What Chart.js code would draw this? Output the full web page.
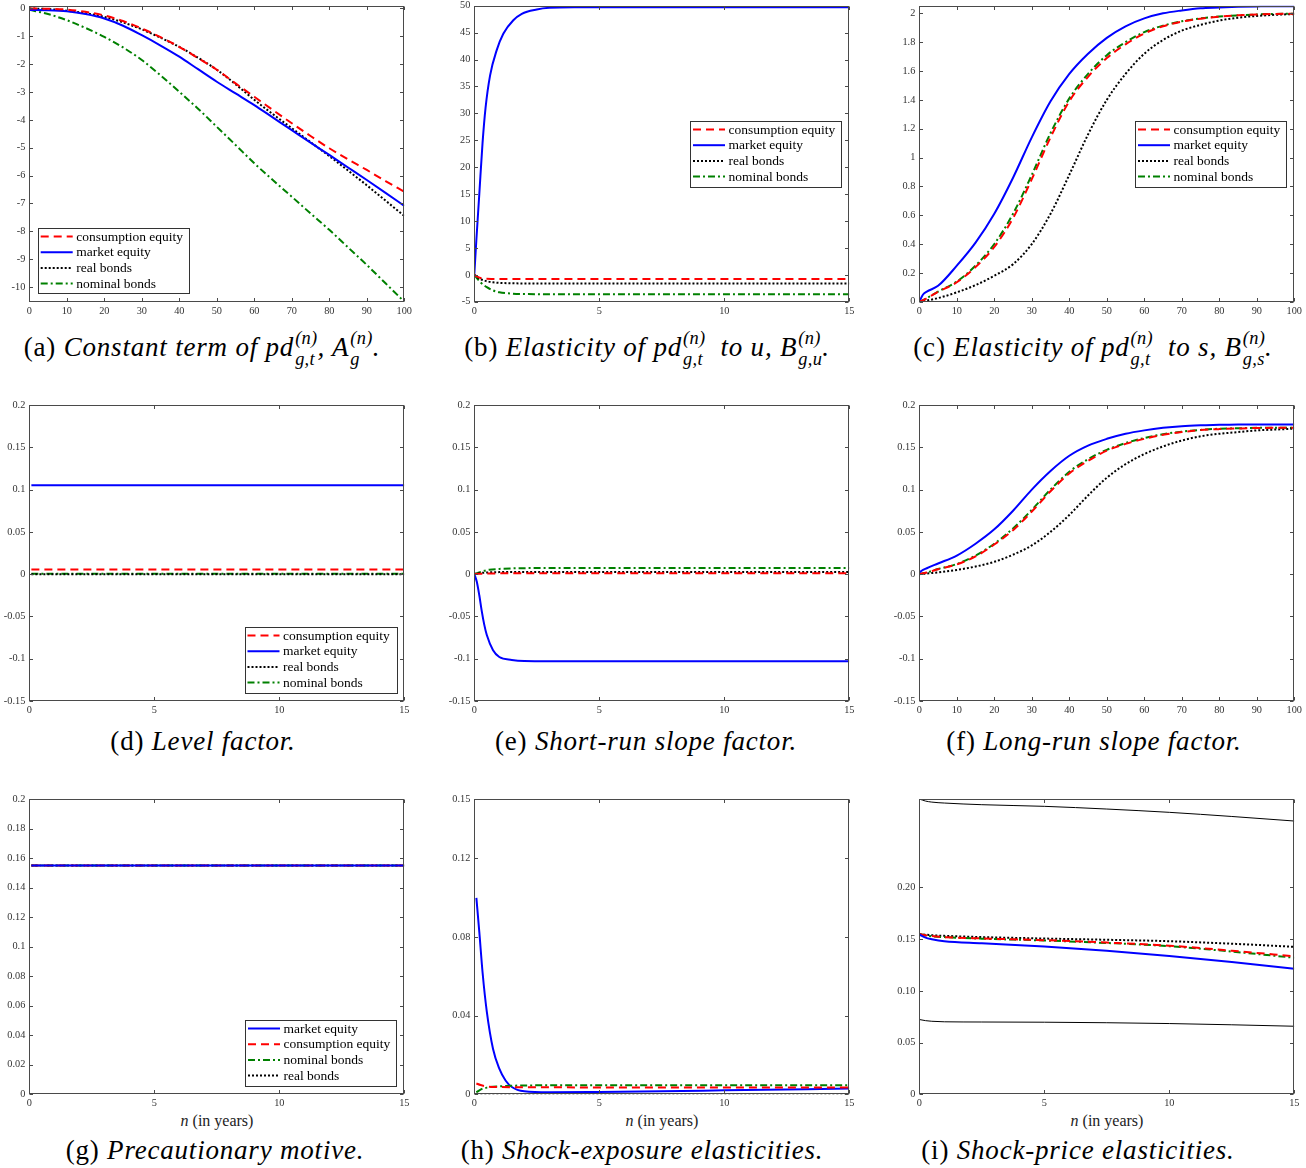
<!DOCTYPE html>
<html><head><meta charset="utf-8">
<script src="https://cdn.jsdelivr.net/npm/chart.js@4.4.1/dist/chart.umd.min.js"></script>
<style>
html,body{margin:0;padding:0;background:#fff;}
body{width:1306px;height:1168px;position:relative;overflow:hidden;font-family:'Liberation Serif','Times New Roman',serif;}
canvas{position:absolute;}
.cap{position:absolute;width:700px;text-align:center;font-size:27px;line-height:30px;white-space:nowrap;color:#000;letter-spacing:0.8px;}
.cap i{font-style:italic;}
.ss{display:inline-block;font-size:0.68em;line-height:1.15;vertical-align:-0.5em;text-align:left;font-style:italic;letter-spacing:0.3px;margin-left:1px;}
.ss span{display:block;}
.xt{position:absolute;width:300px;text-align:center;font-size:16px;line-height:20px;color:#222;}
</style></head><body>
<div class="cap" style="left:-148px;top:328px;">(a) <i>Constant term of pd</i><span class="ss"><span>(n)</span><span>g,t</span></span><i>, A</i><span class="ss"><span>(n)</span><span>g</span></span><i>.</i></div>
<div class="cap" style="left:297px;top:328px;">(b) <i>Elasticity of pd</i><span class="ss"><span>(n)</span><span>g,t</span></span><i>&nbsp; to u, B</i><span class="ss"><span>(n)</span><span>g,u</span></span><i>.</i></div>
<div class="cap" style="left:743px;top:328px;">(c) <i>Elasticity of pd</i><span class="ss"><span>(n)</span><span>g,t</span></span><i>&nbsp; to s, B</i><span class="ss"><span>(n)</span><span>g,s</span></span><i>.</i></div>
<div class="cap" style="left:-147px;top:726px;">(d) <i>Level factor.</i></div>
<div class="cap" style="left:296px;top:726px;">(e) <i>Short-run slope factor.</i></div>
<div class="cap" style="left:744px;top:726px;">(f) <i>Long-run slope factor.</i></div>
<div class="cap" style="left:-135px;top:1135px;">(g) <i>Precautionary motive.</i></div>
<div class="cap" style="left:292px;top:1135px;">(h) <i>Shock-exposure elasticities.</i></div>
<div class="cap" style="left:728px;top:1135px;">(i) <i>Shock-price elasticities.</i></div>
<div class="xt" style="left:67px;top:1111px;"><i>n</i> (in years)</div>
<div class="xt" style="left:512px;top:1111px;"><i>n</i> (in years)</div>
<div class="xt" style="left:957px;top:1111px;"><i>n</i> (in years)</div>
<script>
// ---------- DATA ----------
// (a) constant term
const A_N = [0,5,10,15,20,25,30,35,40,45,50,55,60,65,70,75,80,85,90,95,100];
const A_CONS = [0,-0.01,-0.04,-0.12,-0.25,-0.45,-0.72,-1.03,-1.38,-1.78,-2.2,-2.69,-3.17,-3.65,-4.12,-4.58,-5.02,-5.42,-5.8,-6.2,-6.58];
const A_MKT = [-0.05,-0.06,-0.1,-0.2,-0.36,-0.62,-0.96,-1.33,-1.73,-2.18,-2.63,-3.05,-3.47,-3.92,-4.37,-4.82,-5.26,-5.71,-6.16,-6.62,-7.09];
const A_REAL = [0,-0.02,-0.08,-0.17,-0.3,-0.5,-0.75,-1.05,-1.38,-1.77,-2.2,-2.72,-3.28,-3.8,-4.3,-4.8,-5.3,-5.82,-6.35,-6.9,-7.45];
const A_NOM = [-0.05,-0.2,-0.42,-0.7,-1.02,-1.4,-1.85,-2.4,-2.99,-3.6,-4.25,-4.9,-5.56,-6.17,-6.76,-7.36,-7.95,-8.58,-9.21,-9.87,-10.53];
// (b) elasticity to u
const B_N_MKT = [0,0.083,0.2,0.33,0.45,0.63,0.9,1.16,1.56,1.9,2.5,3,4,15];
const B_MKT = [0,6.5,15,24.5,31,37,41.8,44.8,47.3,48.5,49.3,49.6,49.7,49.7];
const B_N = [0,0.1,0.25,0.5,0.75,1,1.5,2,3,15];
const B_CONS = [0,-0.3,-0.6,-0.75,-0.78,-0.8,-0.8,-0.8,-0.8,-0.8];
const B_REAL = [0,-0.4,-0.8,-1.2,-1.4,-1.5,-1.58,-1.6,-1.6,-1.6];
const B_NOM = [0,-0.6,-1.4,-2.3,-2.9,-3.25,-3.5,-3.58,-3.6,-3.6];
// (c) elasticity to s
const C_N = [0,1,2,5,10,15,20,25,30,35,40,45,50,55,60,65,70,75,80,85,90,95,100];
const C_MKT = [0,0.05,0.07,0.11,0.25,0.41,0.61,0.86,1.14,1.39,1.58,1.72,1.83,1.91,1.965,2.0,2.02,2.035,2.04,2.045,2.048,2.05,2.05];
const C_CONS = [0,0.01,0.024,0.068,0.135,0.24,0.38,0.58,0.85,1.14,1.39,1.56,1.69,1.785,1.86,1.91,1.942,1.963,1.977,1.986,1.992,1.996,1.998];
const C_NOM = [0,0.01,0.025,0.07,0.14,0.25,0.4,0.61,0.88,1.17,1.41,1.58,1.71,1.8,1.87,1.915,1.945,1.965,1.978,1.986,1.992,1.996,1.998];
const C_REAL = [0,0.003,0.008,0.025,0.065,0.115,0.18,0.26,0.4,0.61,0.88,1.16,1.4,1.58,1.72,1.815,1.88,1.92,1.95,1.97,1.982,1.99,1.995];
// (d) level factor
const D_N = [0.083,15];
const D_CONS = [0.0055,0.0055];
const D_MKT = [0.105,0.105];
const D_REAL = [0,0];
const D_NOM = [0.0005,0.0005];
// (e) short-run slope factor
const E_N_MKT = [0,0.1,0.2,0.3,0.4,0.5,0.75,1,1.5,2,3,15];
const E_MKT = [0,-0.009,-0.025,-0.044,-0.06,-0.072,-0.09,-0.098,-0.1015,-0.1028,-0.103,-0.103];
const E_N = [0,0.2,0.4,0.6,1,1.5,2,3,15];
const E_CONS = [0,0.0004,0.0007,0.0008,0.0009,0.001,0.001,0.001,0.001];
const E_REAL = [0,0.0012,0.0018,0.0021,0.0024,0.0025,0.0025,0.0025,0.0025];
const E_NOM = [0,0.002,0.004,0.0052,0.0062,0.0068,0.0071,0.0072,0.0072];
// (f) long-run slope factor
const F_N = [0,1,2,5,10,15,20,25,30,35,40,45,50,55,60,65,70,75,80,85,90,95,100];
const F_MKT = [0.002,0.005,0.007,0.0126,0.022,0.036,0.053,0.075,0.1,0.122,0.14,0.152,0.16,0.166,0.17,0.173,0.175,0.176,0.1765,0.177,0.177,0.177,0.177];
const F_CONS = [0,0.001,0.002,0.0058,0.0115,0.021,0.035,0.052,0.074,0.098,0.119,0.134,0.146,0.154,0.16,0.1648,0.168,0.1703,0.1715,0.1722,0.1728,0.173,0.173];
const F_NOM = [0,0.001,0.002,0.006,0.012,0.022,0.036,0.054,0.076,0.1,0.121,0.136,0.147,0.155,0.161,0.1655,0.1685,0.1705,0.172,0.1725,0.173,0.173,0.173];
const F_REAL = [0,0.0003,0.0008,0.002,0.005,0.009,0.0146,0.023,0.034,0.05,0.07,0.093,0.114,0.13,0.142,0.151,0.158,0.163,0.166,0.168,0.17,0.171,0.172];
// (g) precautionary motive
const G_N = [0.083,15];
const G_MKT = [0.155,0.155];
const G_CONS = [0.155,0.155];
const G_NOM = [0.155,0.155];
const G_REAL = [0.155,0.155];
// (h) shock-exposure elasticities
const H_N_MKT = [0.083,0.2,0.33,0.5,0.75,1,1.25,1.5,2,3,5,10,15];
const H_MKT = [0.0998,0.0825,0.062,0.042,0.023,0.013,0.007,0.0037,0.0015,0.001,0.0012,0.002,0.0029];
const H_N = [0.083,0.25,0.5,1,2,5,15];
const H_CONS = [0.0055,0.0047,0.004,0.0037,0.0036,0.0035,0.0035];
const H_NOM = [0.001,0.0024,0.0034,0.004,0.0045,0.0046,0.0046];
const H_REAL = [0,0,0,0,0,0,0];
// (i) shock-price elasticities
const I_N = [0,0.25,0.5,1,2.5,5,7.5,10,12.5,15];
const I_UPPER = [0.2855,0.2835,0.2825,0.2816,0.28,0.2784,0.2758,0.2726,0.2686,0.2642];
const I_LOWER = [0.0723,0.0712,0.0706,0.0701,0.0699,0.0697,0.0692,0.0684,0.0672,0.0658];
const I_MKT = [0.1545,0.1515,0.15,0.148,0.146,0.1428,0.1388,0.1338,0.1278,0.1213];
const I_CONS = [0.155,0.1538,0.153,0.152,0.1507,0.149,0.1467,0.1437,0.1388,0.1335];
const I_NOM = [0.155,0.1536,0.1528,0.152,0.1505,0.1487,0.1463,0.1432,0.138,0.132];
const I_REAL = [0.155,0.1543,0.1538,0.1532,0.152,0.1506,0.1494,0.148,0.1456,0.1426];

// ---------- TICKS ----------
const X100_TICKS = [0,10,20,30,40,50,60,70,80,90,100];
const X100_LABELS = ['0','10','20','30','40','50','60','70','80','90','100'];
const X15_TICKS = [0,5,10,15];
const X15_LABELS = ['0','5','10','15'];
const A_YTICKS = [-10,-9,-8,-7,-6,-5,-4,-3,-2,-1,0];
const A_YLABELS = ['-10','-9','-8','-7','-6','-5','-4','-3','-2','-1','0'];
const B_YTICKS = [-5,0,5,10,15,20,25,30,35,40,45,50];
const B_YLABELS = ['-5','0','5','10','15','20','25','30','35','40','45','50'];
const C_YTICKS = [0,0.2,0.4,0.6,0.8,1,1.2,1.4,1.6,1.8,2];
const C_YLABELS = ['0','0.2','0.4','0.6','0.8','1','1.2','1.4','1.6','1.8','2'];
const DEF_YTICKS = [-0.15,-0.1,-0.05,0,0.05,0.1,0.15,0.2];
const DEF_YLABELS = ['-0.15','-0.1','-0.05','0','0.05','0.1','0.15','0.2'];
const G_YTICKS = [0,0.02,0.04,0.06,0.08,0.1,0.12,0.14,0.16,0.18,0.2];
const G_YLABELS = ['0','0.02','0.04','0.06','0.08','0.1','0.12','0.14','0.16','0.18','0.2'];
const H_YTICKS = [0,0.04,0.08,0.12,0.15];
const H_YLABELS = ['0','0.04','0.08','0.12','0.15'];
const I_YTICKS = [0,0.05,0.1,0.15,0.2];
const I_YLABELS = ['0','0.05','0.10','0.15','0.20'];

// ---------- STYLES ----------
const NAMES = {cons:'consumption equity', mkt:'market equity', real:'real bonds', nom:'nominal bonds', thin:''};
const STY = {
  cons:{color:'#ff0000', dash:[8,5], width:2},
  mkt:{color:'#0000ff', dash:[], width:2},
  real:{color:'#000000', dash:[2,2], width:2},
  nom:{color:'#008000', dash:[7,3,2,3], width:2},
  thin:{color:'#000000', dash:[], width:1}
};
const FRAME = '#4a4a4a';
const TICKCOL = '#333333';
const TFONT = {family:"'Liberation Serif', serif", size:10.3};
const TL = 3.5;

function pts(xs, ys){ return xs.map((x,i)=>({x:x, y:ys[i]})); }

function panelPlugin(p){
  return {
    id:'pp',
    afterDatasetsDraw(chart){
      const ctx = chart.ctx, a = chart.chartArea, sx = chart.scales.x, sy = chart.scales.y;
      ctx.save();
      ctx.setLineDash([]);
      ctx.strokeStyle = FRAME; ctx.lineWidth = 1;
      const L = Math.round(a.left)+0.5, R = Math.round(a.right)-0.5, T = Math.round(a.top)+0.5, B = Math.round(a.bottom)-0.5;
      ctx.strokeRect(L, T, R-L, B-T);
      ctx.beginPath();
      p.xt.forEach(v=>{ const px = Math.round(sx.getPixelForValue(v))+0.5; ctx.moveTo(px,B); ctx.lineTo(px,B-TL); ctx.moveTo(px,T); ctx.lineTo(px,T+TL); });
      p.yt.forEach(v=>{ const py = Math.round(sy.getPixelForValue(v))+0.5; ctx.moveTo(L,py); ctx.lineTo(L+TL,py); ctx.moveTo(R,py); ctx.lineTo(R-TL,py); });
      ctx.stroke();
      if(p.legend){
        const lg = p.legend;
        const x = lg.x - p.cx, y = lg.y - p.cy;
        ctx.fillStyle = '#fff'; ctx.fillRect(x, y, lg.w, lg.h);
        ctx.strokeStyle = '#333'; ctx.lineWidth = 1;
        ctx.strokeRect(Math.round(x)+0.5, Math.round(y)+0.5, Math.round(lg.w), Math.round(lg.h));
        lg.items.forEach((k,i)=>{
          const cy = y + 8.5 + i*15.7;
          const st = STY[k];
          ctx.strokeStyle = st.color; ctx.lineWidth = st.width; ctx.setLineDash(st.dash);
          ctx.beginPath(); ctx.moveTo(x+3, cy); ctx.lineTo(x+35, cy); ctx.stroke();
          ctx.setLineDash([]);
          ctx.fillStyle = '#000'; ctx.font = "13.5px 'Liberation Serif', serif"; ctx.textBaseline = 'middle'; ctx.textAlign='left';
          ctx.fillText(NAMES[k], x+38.5, cy+0.5);
        });
      }
      ctx.restore();
    }
  };
}

function makePanel(p){
  const cv = document.createElement('canvas');
  cv.width = p.cw; cv.height = p.ch;
  cv.style.left = p.cx+'px'; cv.style.top = p.cy+'px';
  cv.style.width = p.cw+'px'; cv.style.height = p.ch+'px';
  document.body.appendChild(cv);
  const XH = 16;
  new Chart(cv, {
    type:'line',
    data:{datasets: p.series.map(s=>({
      label: NAMES[s.k], data: pts(s.x, s.y),
      borderColor: STY[s.k].color, borderDash: STY[s.k].dash, borderWidth: STY[s.k].width,
      pointRadius:0, fill:false, cubicInterpolationMode:'monotone', borderCapStyle:'butt'
    }))},
    options:{
      responsive:false, animation:false, devicePixelRatio:1,
      layout:{padding:{left:0, top:p.area.t - p.cy, right:p.cx + p.cw - p.area.r, bottom:p.cy + p.ch - p.area.b - XH}},
      plugins:{legend:{display:false}, tooltip:{enabled:false}},
      scales:{
        x:{type:'linear', min:p.xmin, max:p.xmax,
           afterBuildTicks: sc=>{ sc.ticks = p.xt.map(v=>({value:v})); },
           afterFit: sc=>{ sc.height = XH; },
           grid:{display:false, drawTicks:false}, border:{display:false},
           ticks:{autoSkip:false, maxRotation:0, padding:3, font:TFONT, color:TICKCOL, callback:(v,i)=>p.xl[i]}},
        y:{type:'linear', min:p.ymin, max:p.ymax,
           afterBuildTicks: sc=>{ sc.ticks = p.yt.map(v=>({value:v})); },
           afterFit: sc=>{ sc.width = p.area.l - p.cx; },
           grid:{display:false, drawTicks:false}, border:{display:false},
           ticks:{autoSkip:false, padding:4, font:TFONT, color:TICKCOL, callback:(v,i)=>p.yl[i]}}
      }
    },
    plugins:[panelPlugin(p)]
  });
}

const COL = [{cx:0,cw:420,l:29.3,r:404.3},{cx:440,cw:430,l:474.3,r:849.3},{cx:880,cw:426,l:919.3,r:1294.3}];
const ROW = [{cy:-10,ch:335,t:5.7,b:301.7},{cy:390,ch:335,t:405,b:701},{cy:780,ch:335,t:799,b:1094.3}];
function geo(c,r){ return {cx:COL[c].cx, cw:COL[c].cw, cy:ROW[r].cy, ch:ROW[r].ch, area:{l:COL[c].l, r:COL[c].r, t:ROW[r].t, b:ROW[r].b}}; }

const panels = [
  Object.assign(geo(0,0),{xmin:0,xmax:100,ymin:-10.53,ymax:0.1,xt:X100_TICKS,xl:X100_LABELS,yt:A_YTICKS,yl:A_YLABELS,
    series:[{k:'cons',x:A_N,y:A_CONS},{k:'mkt',x:A_N,y:A_MKT},{k:'real',x:A_N,y:A_REAL},{k:'nom',x:A_N,y:A_NOM}],
    legend:{x:37.7,y:228,w:151.3,h:65,items:['cons','mkt','real','nom']}}),
  Object.assign(geo(1,0),{xmin:0,xmax:15,ymin:-5,ymax:50,xt:X15_TICKS,xl:X15_LABELS,yt:B_YTICKS,yl:B_YLABELS,
    series:[{k:'cons',x:B_N,y:B_CONS},{k:'mkt',x:B_N_MKT,y:B_MKT},{k:'real',x:B_N,y:B_REAL},{k:'nom',x:B_N,y:B_NOM}],
    legend:{x:690,y:121,w:151,h:66,items:['cons','mkt','real','nom']}}),
  Object.assign(geo(2,0),{xmin:0,xmax:100,ymin:0,ymax:2.053,xt:X100_TICKS,xl:X100_LABELS,yt:C_YTICKS,yl:C_YLABELS,
    series:[{k:'cons',x:C_N,y:C_CONS},{k:'mkt',x:C_N,y:C_MKT},{k:'real',x:C_N,y:C_REAL},{k:'nom',x:C_N,y:C_NOM}],
    legend:{x:1135,y:121,w:151,h:66,items:['cons','mkt','real','nom']}}),
  Object.assign(geo(0,1),{xmin:0,xmax:15,ymin:-0.15,ymax:0.2,xt:X15_TICKS,xl:X15_LABELS,yt:DEF_YTICKS,yl:DEF_YLABELS,
    series:[{k:'cons',x:D_N,y:D_CONS},{k:'mkt',x:D_N,y:D_MKT},{k:'real',x:D_N,y:D_REAL},{k:'nom',x:D_N,y:D_NOM}],
    legend:{x:244.5,y:627,w:151.5,h:65.5,items:['cons','mkt','real','nom']}}),
  Object.assign(geo(1,1),{xmin:0,xmax:15,ymin:-0.15,ymax:0.2,xt:X15_TICKS,xl:X15_LABELS,yt:DEF_YTICKS,yl:DEF_YLABELS,
    series:[{k:'cons',x:E_N,y:E_CONS},{k:'mkt',x:E_N_MKT,y:E_MKT},{k:'real',x:E_N,y:E_REAL},{k:'nom',x:E_N,y:E_NOM}]}),
  Object.assign(geo(2,1),{xmin:0,xmax:100,ymin:-0.15,ymax:0.2,xt:X100_TICKS,xl:X100_LABELS,yt:DEF_YTICKS,yl:DEF_YLABELS,
    series:[{k:'cons',x:F_N,y:F_CONS},{k:'mkt',x:F_N,y:F_MKT},{k:'real',x:F_N,y:F_REAL},{k:'nom',x:F_N,y:F_NOM}]}),
  Object.assign(geo(0,2),{xmin:0,xmax:15,ymin:0,ymax:0.2,xt:X15_TICKS,xl:X15_LABELS,yt:G_YTICKS,yl:G_YLABELS,
    series:[{k:'mkt',x:G_N,y:G_MKT},{k:'cons',x:G_N,y:G_CONS},{k:'nom',x:G_N,y:G_NOM},{k:'real',x:G_N,y:G_REAL}],
    legend:{x:245,y:1020,w:151,h:66,items:['mkt','cons','nom','real']}}),
  Object.assign(geo(1,2),{xmin:0,xmax:15,ymin:0,ymax:0.15,xt:X15_TICKS,xl:X15_LABELS,yt:H_YTICKS,yl:H_YLABELS,
    series:[{k:'real',x:H_N,y:H_REAL},{k:'cons',x:H_N,y:H_CONS},{k:'nom',x:H_N,y:H_NOM},{k:'mkt',x:H_N_MKT,y:H_MKT}]}),
  Object.assign(geo(2,2),{xmin:0,xmax:15,ymin:0,ymax:0.2855,xt:X15_TICKS,xl:X15_LABELS,yt:I_YTICKS,yl:I_YLABELS,
    series:[{k:'thin',x:I_N,y:I_UPPER},{k:'thin',x:I_N,y:I_LOWER},{k:'mkt',x:I_N,y:I_MKT},{k:'cons',x:I_N,y:I_CONS},{k:'nom',x:I_N,y:I_NOM},{k:'real',x:I_N,y:I_REAL}]})
];
panels.forEach(makePanel);
</script>
</body></html>
